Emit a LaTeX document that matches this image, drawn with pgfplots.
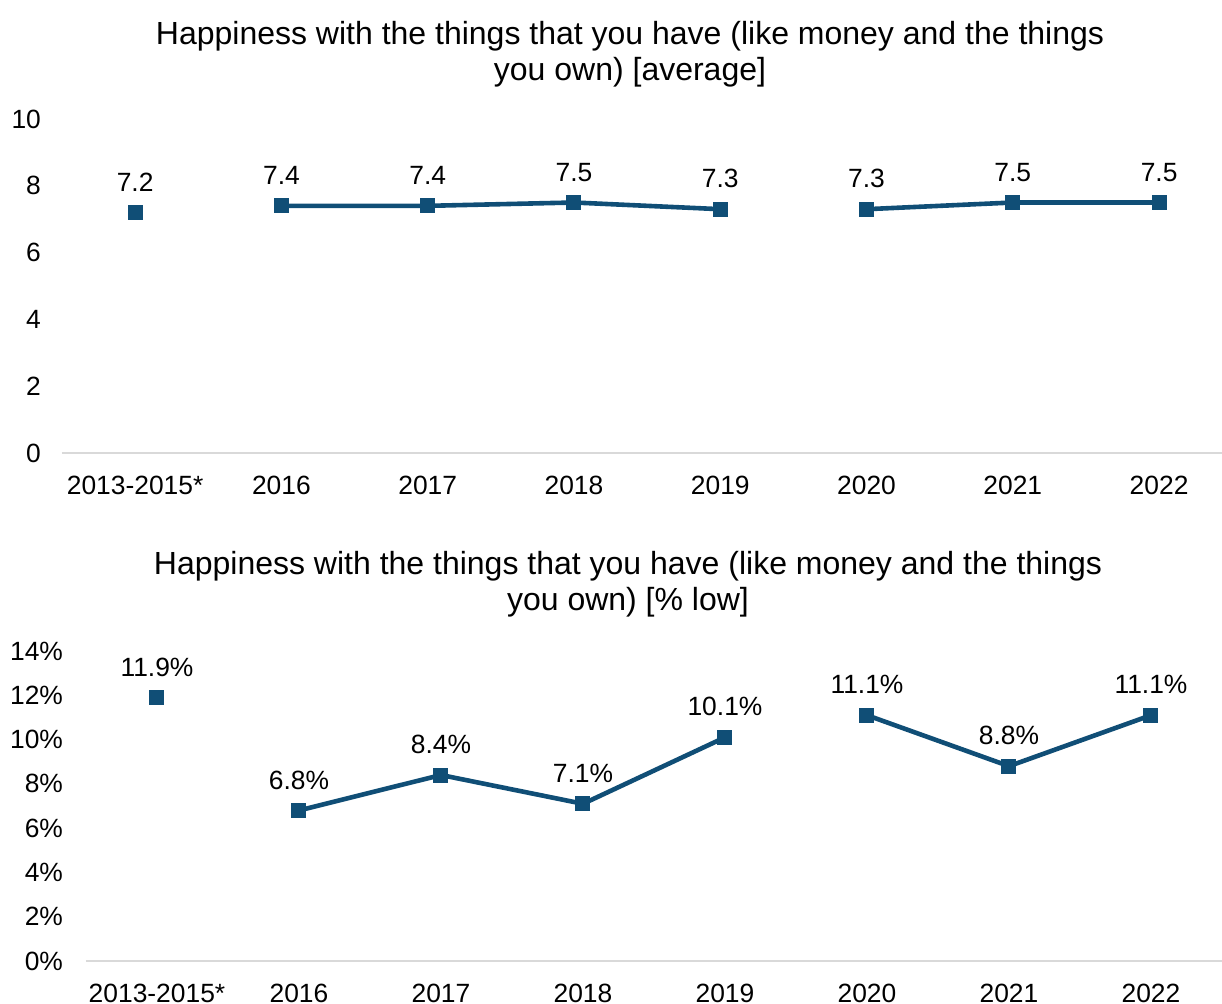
\documentclass[border=0pt]{standalone}
\usepackage{pgfplots}
\pgfplotsset{compat=1.18}
\usepackage{fontspec}
\setmainfont{Liberation Sans}
\definecolor{ser}{HTML}{104E76}
\definecolor{axgrey}{HTML}{D9D9D9}
\begin{document}
\begin{tikzpicture}
\path[use as bounding box] (0pt,0pt) rectangle (611pt,-501.5pt);
\pgfplotsset{
  myax/.style={
    scale only axis,
    separate axis lines,
    axis x line*=bottom,
    axis y line*=left,
    x axis line style={draw=axgrey, line width=0.8pt, -},
    y axis line style={draw=none},
    ytick style={draw=none}, xtick style={draw=none},
    xtick={0,...,7},
    xticklabels={2013-2015*,2016,2017,2018,2019,2020,2021,2022},
    tick label style={font=\fontsize{13.2}{15}\selectfont, text=black},
    /pgf/number format/assume math mode=true,
    clip=false,
    every node near coord/.append style={font=\fontsize{13.2}{15}\selectfont, text=black, anchor=south, yshift=7pt},
  },
  ser/.style={color=ser, line width=2.3pt, mark=square*, mark size=3.5pt, mark options={solid, line width=0.5pt}},
}
% top axis
\begin{axis}[myax,
  at={(31pt,-226.5pt)}, anchor=south west,
  width=580pt, height=167pt,
  xmin=-0.5, xmax=7.43, ymin=0, ymax=10,
  ytick={0,2,...,10},
  yticklabel style={xshift=-7pt},
  xticklabel style={yshift=-8pt},
  nodes near coords={\pgfmathprintnumber[fixed,precision=1,fixed zerofill]{\pgfplotspointmeta}},
]
\addplot[ser] coordinates {(0,7.2)};
\addplot[ser] coordinates {(1,7.4) (2,7.4) (3,7.5) (4,7.3)};
\addplot[ser] coordinates {(5,7.3) (6,7.5) (7,7.5)};
\end{axis}
% bottom axis
\begin{axis}[myax,
  at={(43pt,-480.5pt)}, anchor=south west,
  width=568pt, height=155pt,
  xmin=-0.5, xmax=7.5, ymin=0, ymax=14,
  ytick={0,2,...,14},
  yticklabel={\pgfmathprintnumber{\tick}\%},
  yticklabel style={xshift=-8pt},
  xticklabel style={yshift=-8pt},
  nodes near coords={\pgfmathprintnumber[fixed,precision=1,fixed zerofill]{\pgfplotspointmeta}\%},
]
\addplot[ser] coordinates {(0,11.9)};
\addplot[ser] coordinates {(1,6.8) (2,8.4) (3,7.1) (4,10.1)};
\addplot[ser] coordinates {(5,11.1) (6,8.8) (7,11.1)};
\end{axis}
% titles
\node[font=\fontsize{16}{18}\selectfont, align=center] at (315pt,-27pt) {Happiness with the things that you have (like money and the things\\you own) [average]};
\node[font=\fontsize{16}{18}\selectfont, align=center] at (314pt,-292pt) {Happiness with the things that you have (like money and the things\\you own) [\% low]};
\end{tikzpicture}
\end{document}
